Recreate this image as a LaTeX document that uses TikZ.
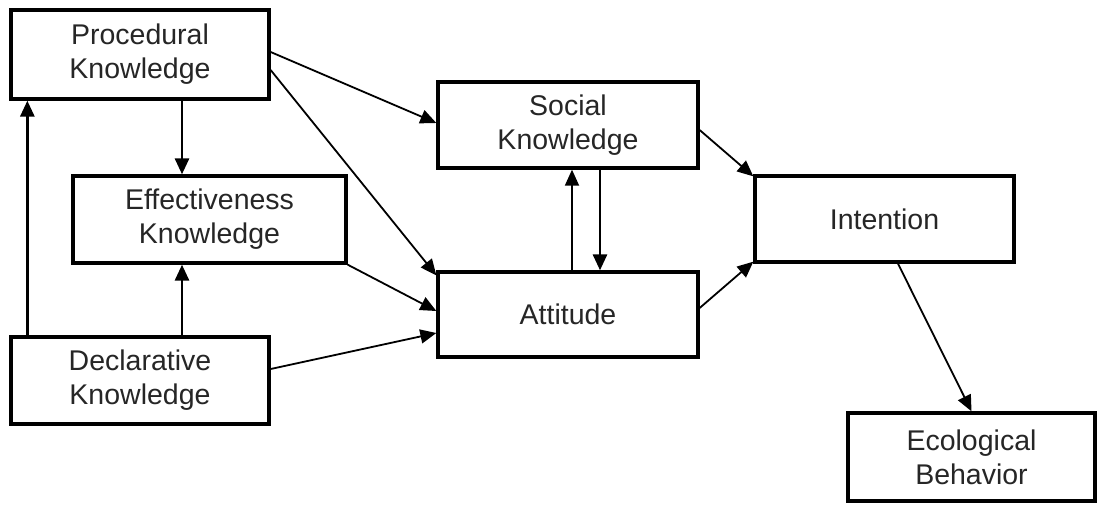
\documentclass[tikz,border=0pt]{standalone}
\usepackage{fontspec}
\setmainfont{Liberation Sans}
\usetikzlibrary{arrows.meta}
\begin{document}
\begin{tikzpicture}[x=1pt,y=-1pt,
  box/.style={draw=black,line width=3.3pt,fill=white,align=center,inner sep=0pt,
    font=\fontsize{28.5}{34}\selectfont,text=black!85},
  thin/.style={line width=1.8pt,-{Triangle[length=16pt,width=14pt]}},
  thick/.style={line width=2.8pt,-{Triangle[length=16pt,width=14pt]}}]
\useasboundingbox (0,0) rectangle (1098,504);
\fill[white] (0,0) rectangle (1098,504);
\node[box,minimum width=258,minimum height=89] (proc) at (140,54.5) {Procedural\\Knowledge};
\node[box,minimum width=273,minimum height=87] (eff) at (209.5,219.5) {Effectiveness\\Knowledge};
\node[box,minimum width=258,minimum height=87] (decl) at (140,380.5) {Declarative\\Knowledge};
\node[box,minimum width=260,minimum height=86] (soc) at (568,125) {Social\\Knowledge};
\node[box,minimum width=260,minimum height=85] (att) at (568,314.5) {Attitude};
\node[box,minimum width=259,minimum height=86] (int) at (884.5,219) {Intention};
\node[box,minimum width=247,minimum height=88] (eco) at (971.5,457) {Ecological\\Behavior};

\draw[thick] ([xshift=18pt]decl.north west) -- ([xshift=18pt]proc.south west);
\draw[thick] ([xshift=42pt]proc.south) -- ([xshift=42pt]proc.south |- eff.north);
\draw[thick] ([xshift=42pt]decl.north) -- ([xshift=42pt]decl.north |- eff.south);
\draw[thin] ([yshift=2.5pt]proc.east) -- ([yshift=2pt]soc.west);
\draw[thin] ([yshift=-15.5pt]proc.east) -- ([yshift=-5pt]att.north west);
\draw[thin] (eff.south east) -- ([yshift=3.5pt]att.west);
\draw[thin] ([yshift=11.5pt]decl.east) -- ([yshift=-18.5pt]att.west);
\draw[thin] ([xshift=4pt]att.north) -- ([xshift=4pt]att.north |- soc.south);
\draw[thick] ([xshift=32pt]soc.south) -- ([xshift=32pt]soc.south |- att.north);
\draw[thin] ([yshift=-5pt]soc.east) -- ([yshift=-2pt]int.north west);
\draw[thin] ([yshift=6.5pt]att.east) -- ([yshift=2pt]int.south west);
\draw[thin] ([xshift=13.5pt]int.south) -- (eco.north);
\end{tikzpicture}
\end{document}
